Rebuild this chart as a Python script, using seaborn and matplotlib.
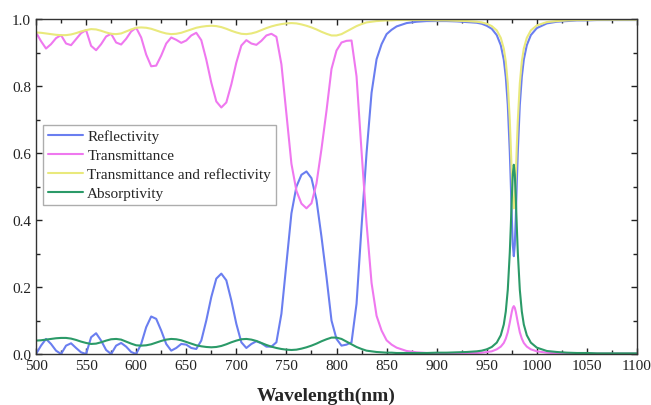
import matplotlib
matplotlib.use("Agg")
import matplotlib.pyplot as plt
from matplotlib.ticker import MultipleLocator
import seaborn as sns

# wavelength grid (nm)
wavelength = [
    500, 505, 510, 515, 520, 525, 530, 535, 540, 545,
    550, 555, 560, 565, 570, 575, 580, 585, 590, 595,
    600, 605, 610, 615, 620, 625, 630, 635, 640, 645,
    650, 655, 660, 665, 670, 675, 680, 685, 690, 695,
    700, 705, 710, 715, 720, 725, 730, 735, 740, 745,
    750, 755, 760, 765, 770, 775, 780, 785, 790, 795,
    800, 805, 810, 815, 820, 825, 830, 835, 840, 845,
    850, 855, 860, 870, 880, 890, 900, 910, 920, 930, 940,
    945, 950, 955, 960, 964, 967, 969, 971, 973, 974, 975, 976,
    977, 978, 979, 980, 981, 983, 985, 987, 990, 994,
    1000, 1010, 1020, 1030, 1040, 1050, 1060, 1070, 1080, 1090, 1100,
]

reflectivity = [
    0.0, 0.025, 0.045, 0.03, 0.01, 0.0, 0.025, 0.032, 0.018, 0.005,
    0.0, 0.05, 0.062, 0.04, 0.012, 0.0, 0.025, 0.033, 0.022, 0.006,
    0.0, 0.03, 0.08, 0.112, 0.105, 0.07, 0.03, 0.01, 0.018, 0.03,
    0.028, 0.018, 0.015, 0.04, 0.1, 0.17, 0.225, 0.24, 0.22, 0.16,
    0.09, 0.035, 0.018, 0.03, 0.038, 0.032, 0.022, 0.022, 0.035, 0.12,
    0.27, 0.42, 0.5, 0.535, 0.545, 0.525, 0.46, 0.35, 0.23, 0.1,
    0.045, 0.025, 0.028, 0.035, 0.15, 0.38, 0.6, 0.78, 0.88, 0.925,
    0.955, 0.968, 0.978, 0.988, 0.992, 0.994, 0.994, 0.994, 0.993, 0.991, 0.989,
    0.986, 0.98, 0.971, 0.952, 0.922, 0.879, 0.827, 0.743, 0.603, 0.51, 0.409, 0.326,
    0.292, 0.326, 0.409, 0.51, 0.603, 0.743, 0.827, 0.879, 0.922, 0.952,
    0.973, 0.987, 0.992, 0.994, 0.996, 0.996, 0.997, 0.997, 0.997, 0.997, 0.997,
]

transmittance = [
    0.96, 0.934, 0.912, 0.925, 0.943, 0.952, 0.927, 0.922, 0.94, 0.958,
    0.967, 0.92, 0.907, 0.925, 0.948, 0.956, 0.93, 0.924, 0.941, 0.963,
    0.974, 0.945, 0.894, 0.859, 0.861, 0.891, 0.927, 0.945, 0.938, 0.929,
    0.936, 0.951, 0.959, 0.937, 0.879, 0.81, 0.754, 0.736, 0.751, 0.805,
    0.87, 0.921, 0.937, 0.927, 0.923, 0.935, 0.951, 0.956, 0.947, 0.865,
    0.717, 0.568, 0.487, 0.449, 0.435, 0.45, 0.509, 0.612, 0.726, 0.851,
    0.906, 0.93, 0.935, 0.936, 0.829, 0.605, 0.39, 0.212, 0.114, 0.07,
    0.041, 0.028, 0.019, 0.009, 0.005, 0.003, 0.002, 0.002, 0.002, 0.003, 0.003,
    0.004, 0.006, 0.008, 0.014, 0.022, 0.033, 0.046, 0.065, 0.094, 0.11, 0.126, 0.138,
    0.143, 0.138, 0.126, 0.11, 0.094, 0.065, 0.046, 0.033, 0.022, 0.014,
    0.008, 0.004, 0.002, 0.0015, 0.001, 0.001, 0.001, 0.001, 0.001, 0.001, 0.001,
]

trans_refl = [
    0.96, 0.959, 0.957, 0.955, 0.953, 0.952, 0.952, 0.954, 0.958, 0.963,
    0.967, 0.97, 0.969, 0.965, 0.96, 0.956, 0.955, 0.957, 0.963, 0.969,
    0.974, 0.975, 0.974, 0.971, 0.966, 0.961, 0.957, 0.955, 0.956, 0.959,
    0.964, 0.969, 0.974, 0.977, 0.979, 0.98, 0.979, 0.976, 0.971, 0.965,
    0.96, 0.956, 0.955, 0.957, 0.961, 0.967, 0.973, 0.978, 0.982, 0.985,
    0.987, 0.988, 0.987, 0.984, 0.98, 0.975, 0.969, 0.962, 0.956, 0.951,
    0.951, 0.955, 0.963, 0.971, 0.979, 0.985, 0.99, 0.992, 0.994, 0.995,
    0.996, 0.996, 0.997, 0.997, 0.997, 0.997, 0.996, 0.996, 0.995, 0.994, 0.992,
    0.99, 0.986, 0.979, 0.966, 0.944, 0.912, 0.873, 0.808, 0.697, 0.62, 0.535, 0.464,
    0.435, 0.464, 0.535, 0.62, 0.697, 0.808, 0.873, 0.912, 0.944, 0.966,
    0.981, 0.991, 0.994, 0.996, 0.997, 0.997, 0.998, 0.998, 0.998, 0.998, 0.998,
]

absorptivity = [
    0.04, 0.041, 0.043, 0.045, 0.047, 0.048, 0.048, 0.046, 0.042, 0.037,
    0.033, 0.03, 0.031, 0.035, 0.04, 0.044, 0.045, 0.043, 0.037, 0.031,
    0.026, 0.025, 0.026, 0.029, 0.034, 0.039, 0.043, 0.045, 0.044, 0.041,
    0.036, 0.031, 0.026, 0.023, 0.021, 0.02, 0.021, 0.024, 0.029, 0.035,
    0.04, 0.044, 0.045, 0.043, 0.039, 0.033, 0.027, 0.022, 0.018, 0.015,
    0.013, 0.012, 0.013, 0.016, 0.02, 0.025, 0.031, 0.038, 0.044, 0.049,
    0.049, 0.045, 0.037, 0.029, 0.021, 0.015, 0.01, 0.008, 0.006, 0.005,
    0.004, 0.004, 0.003, 0.003, 0.003, 0.003, 0.004, 0.004, 0.005, 0.006, 0.008,
    0.01, 0.014, 0.021, 0.034, 0.056, 0.088, 0.127, 0.192, 0.303, 0.38, 0.465, 0.536,
    0.565, 0.536, 0.465, 0.38, 0.303, 0.192, 0.127, 0.088, 0.056, 0.034,
    0.019, 0.009, 0.006, 0.004, 0.003, 0.003, 0.002, 0.002, 0.002, 0.002, 0.002,
]

series = [
    ("Reflectivity", reflectivity, "#6a7ef0"),
    ("Transmittance", transmittance, "#ef78ef"),
    ("Transmittance and reflectivity", trans_refl, "#e9e97c"),
    ("Absorptivity", absorptivity, "#2b9a68"),
]

sns.set_style("ticks")
plt.rcParams['font.family'] = ['Liberation Serif', 'DejaVu Serif']

fig = plt.figure(figsize=(6.51, 4.06), dpi=100)
ax = fig.add_axes([0.0553, 0.1256, 0.9232, 0.825])

for name, vals, color in series:
    sns.lineplot(x=wavelength, y=vals, ax=ax, color=color, lw=1.5, label=name)

ax.set_xlim(500, 1100)
ax.set_ylim(0, 1.0)
ax.xaxis.set_major_locator(MultipleLocator(50))
ax.xaxis.set_minor_locator(MultipleLocator(25))
ax.yaxis.set_major_locator(MultipleLocator(0.2))
ax.yaxis.set_minor_locator(MultipleLocator(0.1))
ax.tick_params(which='both', direction='in', top=True, right=True,
               labelsize=11, colors='#222222', width=1)
ax.tick_params(which='major', length=4)
ax.tick_params(which='minor', length=3)
for sp in ax.spines.values():
    sp.set_color('#333333')
    sp.set_linewidth(1)

ax.set_xlabel('Wavelength(nm)', fontsize=14, fontweight='bold')
ax.xaxis.set_label_coords(0.4825, -0.097)
ax.set_ylabel('')

leg = ax.legend(loc='upper left', bbox_to_anchor=(0.0116, 0.684), fontsize=11,
                frameon=True, fancybox=False, handlelength=2.3, handletextpad=0.3,
                borderpad=0.3, labelspacing=0.35, borderaxespad=0)
leg.get_frame().set_edgecolor('#999999')
leg.get_frame().set_linewidth(1)

fig.savefig('out.png', dpi=100)
